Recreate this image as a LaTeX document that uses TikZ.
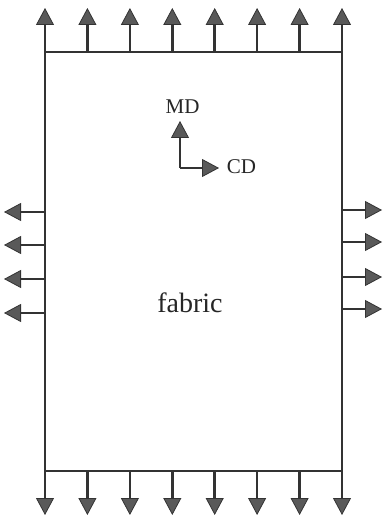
\documentclass[tikz,border=0pt]{standalone}
\usepackage{fontspec}
\setmainfont{Liberation Serif}
\usetikzlibrary{arrows.meta}
\tikzset{
  edge/.style={draw=black!80, line width=2.6pt},
  arr/.style={draw=black!80, line width=2.6pt,
    -{Triangle[width=18pt,length=17pt,fill=black!65,color=black!80,line width=0.8pt]}},
  lbl/.style={inner sep=0pt, font=\fontsize{21}{23}\selectfont, text=black!85},
  big/.style={inner sep=0pt, font=\fontsize{28}{30}\selectfont, text=black!85}
}
\begin{document}
\begin{tikzpicture}[x=1pt,y=-1pt]
\useasboundingbox (0,0) rectangle (383,518);
% frame
\coordinate (tl) at (45,52);
\coordinate (tr) at (342,52);
\coordinate (bl) at (45,471);
\coordinate (br) at (342,471);
\draw[edge, line join=miter] (tl) -- (tr) -- (br) -- (bl) -- cycle;
% top and bottom arrows
\foreach \i/\x in {1/45,2/87.4,3/129.9,4/172.3,5/214.7,6/257.1,7/299.6,8/342}{
  \coordinate (t\i) at (\x,52);
  \coordinate (tt\i) at (\x,8);
  \coordinate (b\i) at (\x,471);
  \coordinate (bb\i) at (\x,515);
  \draw[arr] (t\i) -- (tt\i);
  \draw[arr] (b\i) -- (bb\i);
}
% left arrows
\foreach \i/\y in {1/212,2/245,3/279,4/313}{
  \coordinate (l\i) at (45,\y);
  \coordinate (ll\i) at (4,\y);
  \draw[arr] (l\i) -- (ll\i);
}
% right arrows
\foreach \i/\y in {1/210,2/242,3/277,4/309}{
  \coordinate (r\i) at (342,\y);
  \coordinate (rr\i) at (382,\y);
  \draw[arr] (r\i) -- (rr\i);
}
% axes
\coordinate (o) at (180,168);
\coordinate (mdtip) at (180,121);
\coordinate (cdtip) at (219,168);
\draw[arr] (o) -- (mdtip);
\draw[arr] (o) -- (cdtip);
\node[lbl] (md) at (182.5,107) {MD};
\node[lbl] (cd) at (241.5,167) {CD};
\node[big] (fabric) at (190,303) {fabric};
\end{tikzpicture}
\end{document}
